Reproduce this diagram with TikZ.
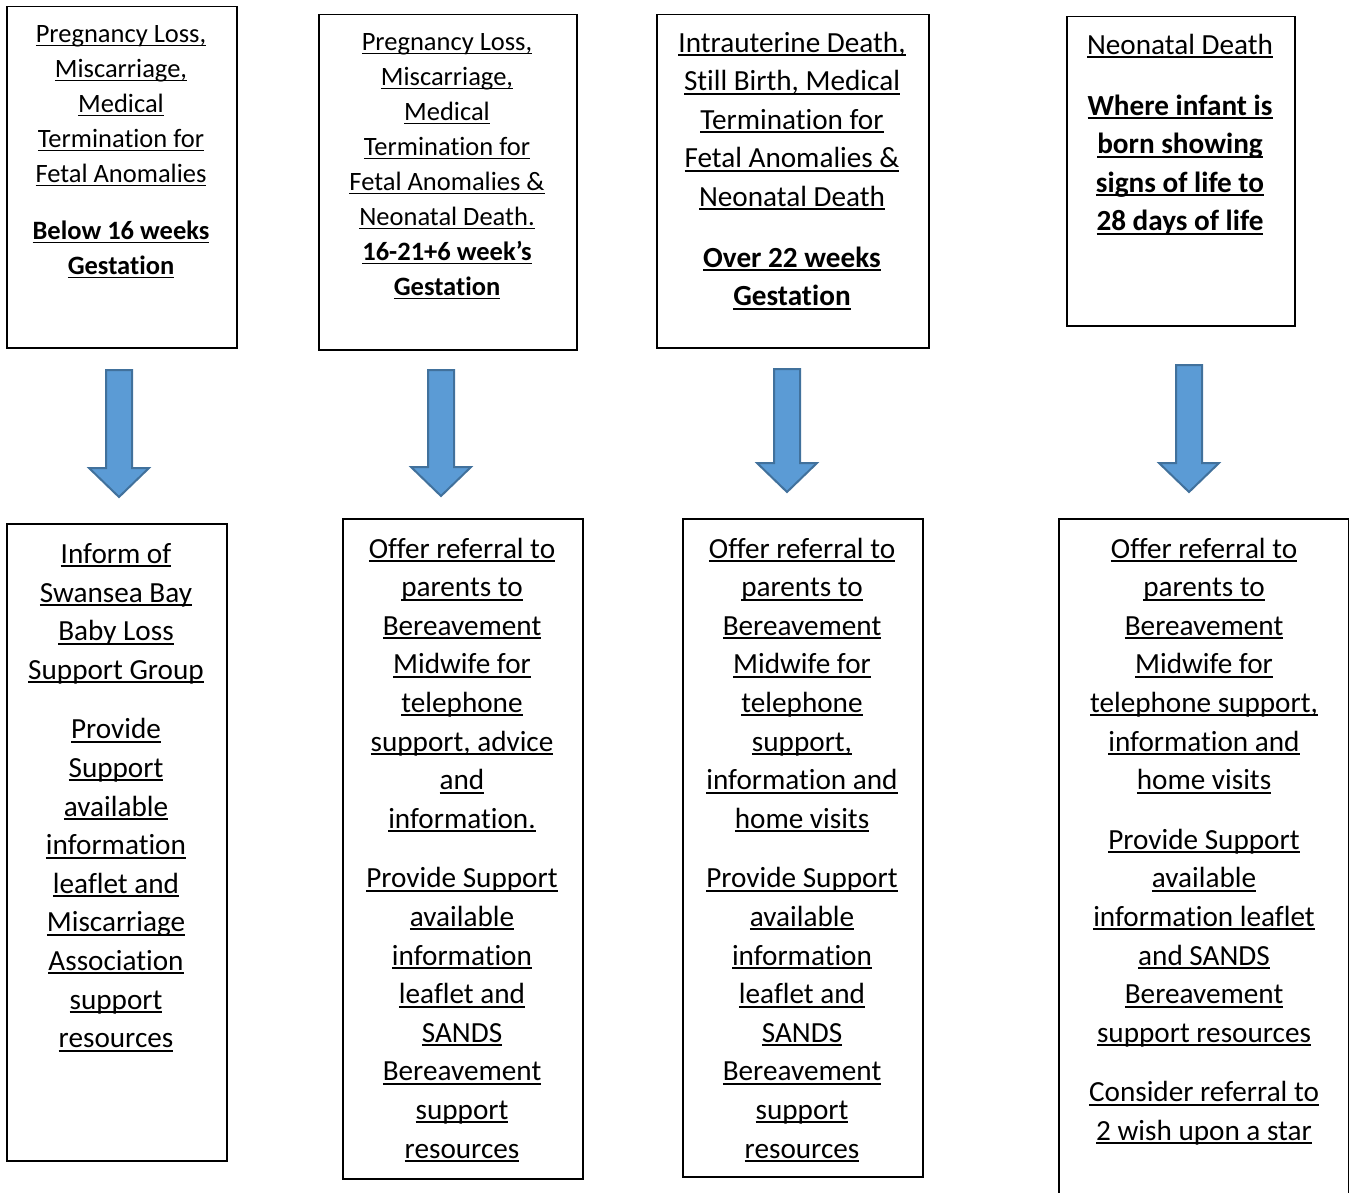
\documentclass[tikz,border=0pt]{standalone}
\usepackage{fontspec}
\setmainfont{Carlito}[RawFeature={-liga}]
\usetikzlibrary{calc}
\definecolor{arrfill}{HTML}{5B9BD5}
\definecolor{arrline}{HTML}{41719C}
\newcommand\ulx[1]{\leavevmode\setbox0\hbox{#1}\rlap{\rule[-0.13em]{\wd0}{0.065em}}\box0}
\newcommand\fl{\rule{0pt}{0.8em}}
\newcommand\blockarrow[1]{%
  \draw[blockarr] ($(#1t)+(-13,0)$) -- ($(#1b)+(-13,-29)$) -- ($(#1b)+(-30,-29)$)
    -- (#1b) -- ($(#1b)+(30,-29)$) -- ($(#1b)+(13,-29)$) -- ($(#1t)+(13,0)$) -- cycle;}
\tikzset{
  box/.style={draw=black, line width=1.5pt, anchor=north west, inner sep=0pt},
  smalltxt/.style={font=\fontsize{26.5}{35}\selectfont, align=center, anchor=north, inner sep=0pt},
  largetxt/.style={font=\fontsize{29.2}{38.6}\selectfont, align=center, anchor=north, inner sep=0pt},
  blockarr/.style={fill=arrfill, draw=arrline, line width=2pt, line join=miter},
}
\begin{document}
\begin{tikzpicture}[x=1pt, y=-1pt]
\useasboundingbox (0,0) rectangle (1349,1193);
\clip (0,0) rectangle (1349,1193);

% top boxes
\node[box, minimum width=230pt, minimum height=341pt] (t1) at (6,6) {};
\node[box, minimum width=258pt, minimum height=335pt] (t2) at (318,14) {};
\node[box, minimum width=272pt, minimum height=333pt] (t3) at (656,14) {};
\node[box, minimum width=228pt, minimum height=309pt] (t4) at (1066,16) {};

\node[smalltxt] (t1x) at (121,21.5) {\fl\ulx{Pregnancy Loss,}\\ \ulx{Miscarriage,}\\ \ulx{Medical}\\ \ulx{Termination for}\\ \ulx{Fetal Anomalies}\\[22pt]
  \textbf{\ulx{Below 16 weeks}}\\ \textbf{\ulx{Gestation}}};
\node[smalltxt] (t2x) at (447,29.5) {\fl\ulx{Pregnancy Loss,}\\ \ulx{Miscarriage,}\\ \ulx{Medical}\\ \ulx{Termination for}\\ \ulx{Fetal Anomalies \&}\\ \ulx{Neonatal Death.}\\
  \textbf{\ulx{16-21+6 week’s}}\\ \textbf{\ulx{Gestation}}};
\node[largetxt] (t3x) at (792,28.6) {\fl\ulx{Intrauterine Death,}\\ \ulx{Still Birth, Medical}\\ \ulx{Termination for}\\ \ulx{Fetal Anomalies \&}\\ \ulx{Neonatal Death}\\[22pt]
  \textbf{\ulx{Over 22 weeks}}\\ \textbf{\ulx{Gestation}}};
\node[largetxt] (t4x) at (1180,31) {\fl\ulx{Neonatal Death}\\[22pt]
  \textbf{\ulx{Where infant is}}\\ \textbf{\ulx{born showing}}\\ \textbf{\ulx{signs of life to}}\\ \textbf{\ulx{28 days of life}}};

% arrows
\coordinate (a1t) at (119,370); \coordinate (a1b) at (119,497);
\coordinate (a2t) at (441,370); \coordinate (a2b) at (441,496);
\coordinate (a3t) at (787,369); \coordinate (a3b) at (787,492);
\coordinate (a4t) at (1189,365); \coordinate (a4b) at (1189,492);
\blockarrow{a1}
\blockarrow{a2}
\blockarrow{a3}
\blockarrow{a4}

% bottom boxes
\node[box, minimum width=220pt, minimum height=637pt] (b1) at (6,523) {};
\node[box, minimum width=240pt, minimum height=660pt] (b2) at (342,518) {};
\node[box, minimum width=240pt, minimum height=658pt] (b3) at (682,518) {};
\node[box, minimum width=290pt, minimum height=700pt] (b4) at (1058,518) {};

\node[largetxt] (b1x) at (116,540) {\fl\ulx{Inform of}\\ \ulx{Swansea Bay}\\ \ulx{Baby Loss}\\ \ulx{Support Group}\\[21pt]
  \ulx{Provide}\\ \ulx{Support}\\ \ulx{available}\\ \ulx{information}\\ \ulx{leaflet and}\\ \ulx{Miscarriage}\\ \ulx{Association}\\ \ulx{support}\\ \ulx{resources}};
\node[largetxt] (b2x) at (462,534.6) {\fl\ulx{Offer referral to}\\ \ulx{parents to}\\ \ulx{Bereavement}\\ \ulx{Midwife for}\\ \ulx{telephone}\\ \ulx{support, advice}\\ \ulx{and}\\ \ulx{information.}\\[21pt]
  \ulx{Provide Support}\\ \ulx{available}\\ \ulx{information}\\ \ulx{leaflet and}\\ \ulx{SANDS}\\ \ulx{Bereavement}\\ \ulx{support}\\ \ulx{resources}};
\node[largetxt] (b3x) at (802,534.6) {\fl\ulx{Offer referral to}\\ \ulx{parents to}\\ \ulx{Bereavement}\\ \ulx{Midwife for}\\ \ulx{telephone}\\ \ulx{support,}\\ \ulx{information and}\\ \ulx{home visits}\\[21pt]
  \ulx{Provide Support}\\ \ulx{available}\\ \ulx{information}\\ \ulx{leaflet and}\\ \ulx{SANDS}\\ \ulx{Bereavement}\\ \ulx{support}\\ \ulx{resources}};
\node[largetxt] (b4x) at (1204,534.6) {\fl\ulx{Offer referral to}\\ \ulx{parents to}\\ \ulx{Bereavement}\\ \ulx{Midwife for}\\ \ulx{telephone support,}\\ \ulx{information and}\\ \ulx{home visits}\\[21pt]
  \ulx{Provide Support}\\ \ulx{available}\\ \ulx{information leaflet}\\ \ulx{and SANDS}\\ \ulx{Bereavement}\\ \ulx{support resources}\\[21pt]
  \ulx{Consider referral to}\\ \ulx{2 wish upon a star}};
\end{tikzpicture}
\end{document}
